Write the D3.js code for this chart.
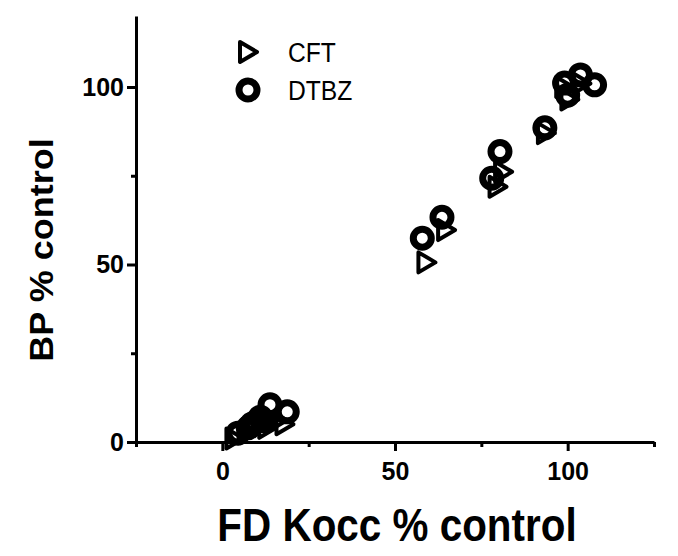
<!DOCTYPE html>
<html>
<head>
<meta charset="utf-8">
<script src="https://cdn.jsdelivr.net/npm/d3@7"></script>
<style>
    html, body { margin: 0; padding: 0; background: #fff; }
    text { font-family: "Liberation Sans", Arial, sans-serif; }
</style>
</head>
<body>
<div class="canvas"></div>

<script>
    // values
    const cftX = [59.1, 64.8, 79.7, 81.3, 93.7, 100.5, 99.0, 104.0, 3.5, 7.0, 9.0, 11.0, 13.0, 15.0, 18.0];
    const cftY = [50.6, 59.7, 71.9, 76.1, 87.0, 96.5, 100.0, 101.0, 1.0, 2.5, 3.5, 4.5, 4.0, 5.5, 5.0];
    const dtbzX = [57.9, 63.6, 78.0, 80.4, 93.4, 99.1, 103.7, 107.8, 100.0, 4.5, 7.5, 8.5, 9.5, 11.0, 13.8, 18.8, 12.0];
    const dtbzY = [57.4, 63.3, 74.3, 81.8, 88.5, 101.1, 103.4, 100.6, 97.7, 2.5, 4.0, 5.0, 5.5, 7.0, 10.5, 8.5, 6.0];
    const xTicks = [-25, 0, 25, 50, 75, 100, 125];
    const yTicks = [0, 25, 50, 75, 100];
    const labelledTicks = [0, 50, 100];
    const seriesNames = ["CFT", "DTBZ"];

    (function () {
        const width = 678;
        const height = 556;
        const X0 = 136, X1 = 654;
        const Y0 = 442, Y1 = 16;

        const svg = d3.select(".canvas").append("svg")
            .attr("width", width)
            .attr("height", height);

        const x = d3.scaleLinear().domain([-25, 125]).range([X0, X1]);
        const y = d3.scaleLinear().domain([0, 120]).range([Y0, Y1]);

        const fmt = d => labelledTicks.includes(d) ? d : "";

        // y axis
        const yAxis = svg.append("g")
            .attr("transform", "translate(" + X0 + ",0)")
            .call(d3.axisLeft(y).tickValues(yTicks).tickFormat(fmt).tickSizeOuter(0));
        yAxis.select(".domain").attr("stroke-width", 3);
        yAxis.selectAll(".tick line")
            .attr("stroke-width", 3)
            .attr("x2", d => d % 50 === 0 ? -9 : -5);
        yAxis.selectAll(".tick text")
            .attr("x", -12)
            .attr("font-size", 25)
            .attr("font-weight", "bold")
            .attr("fill", "#000");

        // x axis
        const xAxis = svg.append("g")
            .attr("transform", "translate(0," + Y0 + ")")
            .call(d3.axisBottom(x).tickValues(xTicks).tickFormat(fmt).tickSizeOuter(0));
        xAxis.select(".domain").attr("stroke-width", 3);
        xAxis.selectAll(".tick line")
            .attr("stroke-width", 3)
            .attr("y2", d => d % 50 === 0 ? 9 : 5);
        xAxis.selectAll(".tick text")
            .attr("y", 20)
            .attr("font-size", 25)
            .attr("font-weight", "bold")
            .attr("fill", "#000");

        // markers
        const tri = "M-8,-10L9,0L-8,10Z";

        svg.append("g").selectAll("path")
            .data(d3.range(cftX.length))
            .enter().append("path")
            .attr("d", tri)
            .attr("transform", i => "translate(" + x(cftX[i]) + "," + y(cftY[i]) + ")")
            .attr("fill", "none")
            .attr("stroke", "#000")
            .attr("stroke-width", 4)
            .attr("stroke-linejoin", "round");

        svg.append("g").selectAll("circle")
            .data(d3.range(dtbzX.length))
            .enter().append("circle")
            .attr("cx", i => x(dtbzX[i]))
            .attr("cy", i => y(dtbzY[i]))
            .attr("r", 9)
            .attr("fill", "none")
            .attr("stroke", "#000")
            .attr("stroke-width", 7);

        // legend
        const legend = svg.append("g");
        legend.append("path")
            .attr("d", tri)
            .attr("transform", "translate(248,52)")
            .attr("fill", "none")
            .attr("stroke", "#000")
            .attr("stroke-width", 4)
            .attr("stroke-linejoin", "round");
        legend.append("circle")
            .attr("cx", 248).attr("cy", 90).attr("r", 9)
            .attr("fill", "none").attr("stroke", "#000").attr("stroke-width", 7);
        legend.selectAll("text")
            .data(seriesNames)
            .enter().append("text")
            .attr("transform", (d, i) => "translate(288," + (62 + i * 38) + ") scale(0.88,1)")
            .attr("font-size", 28)
            .text(d => d);

        // axis titles
        svg.append("text")
            .attr("transform", "translate(397,541) scale(0.86,1)")
            .attr("text-anchor", "middle")
            .attr("font-size", 47)
            .attr("font-weight", "bold")
            .text("FD Kocc % control");

        svg.append("text")
            .attr("transform", "translate(53,250) rotate(-90) scale(1,0.92)")
            .attr("text-anchor", "middle")
            .attr("font-size", 36)
            .attr("font-weight", "bold")
            .text("BP % control");
    })()
</script>
</body>
</html>
